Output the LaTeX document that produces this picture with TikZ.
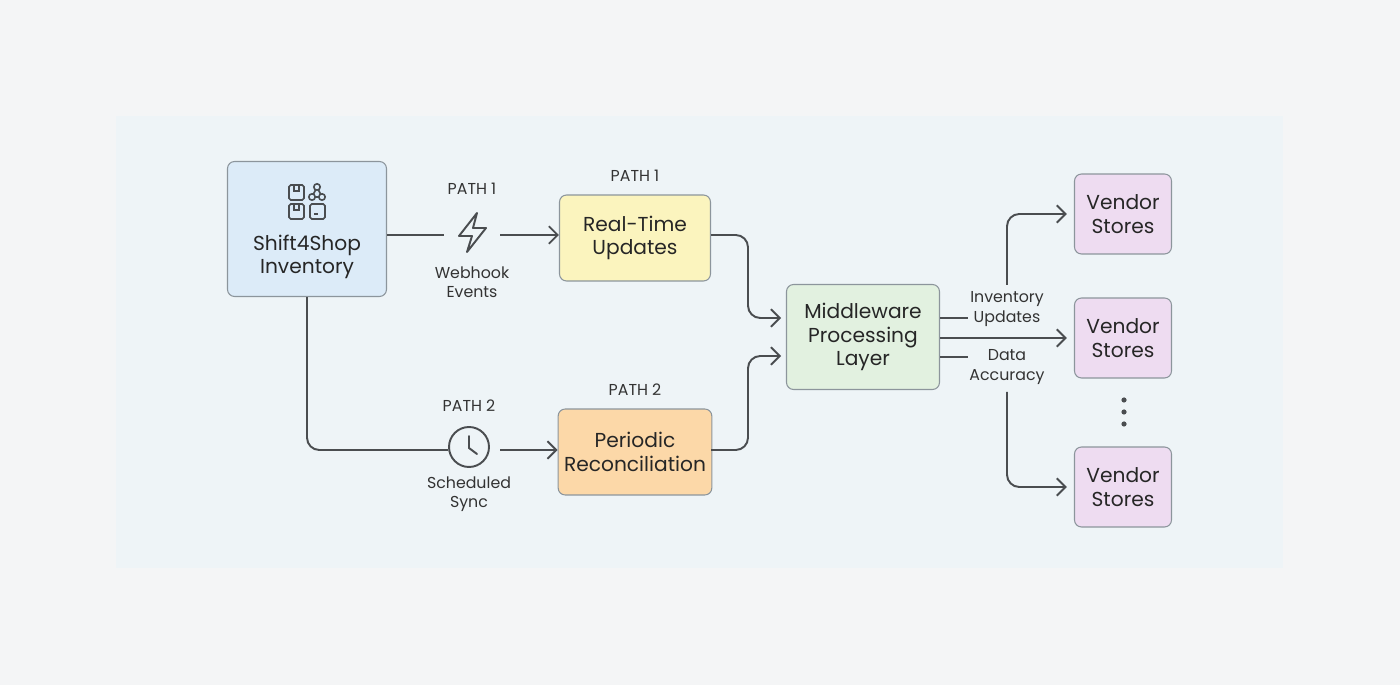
\documentclass[tikz,border=0pt]{standalone}
\usepackage{fontspec}
\setmainfont{Poppins}
\usepackage{tikz}
\usetikzlibrary{positioning,arrows.meta,calc}
\definecolor{lineC}{HTML}{4A4D50}
\definecolor{edgeC}{HTML}{8C959C}
\definecolor{blueF}{HTML}{DCEBF8}
\definecolor{yellowF}{HTML}{FBF4BE}
\definecolor{orangeF}{HTML}{FCD8A8}
\definecolor{greenF}{HTML}{E2F1E0}
\definecolor{pinkF}{HTML}{EEDCF1}
\definecolor{pageC}{HTML}{F4F5F6}
\definecolor{panelC}{HTML}{EEF4F7}

\begin{document}
\begin{tikzpicture}[
    x=0.02cm, y=-0.02cm,
    box/.style={rectangle, draw=edgeC, line width=0.6pt, rounded corners=4pt, align=center, font=\fontsize{11.5}{13.5}\selectfont, text=black!85},
    lbl/.style={align=center, font=\fontsize{9}{11}\selectfont, text=black!80},
    arrow/.style={-{Straight Barb[length=5pt,width=10pt]}, line width=1.1pt, draw=lineC, rounded corners=7pt},
    link/.style={line width=1.1pt, draw=lineC, rounded corners=7pt}
]
% page and panel
\fill[pageC] (0,0) rectangle (1400,685);
\fill[panelC] (116,116) rectangle (1283,568);

% boxes
\node[box, fill=blueF, minimum width=3.18cm, minimum height=2.7cm] (shop) at (307,229) {};
\node[box, draw=none, fill=none] (shoptxt) at (307,257) {Shift4Shop\\Inventory};
\node[box, fill=yellowF, minimum width=3.02cm, minimum height=1.72cm] (realtime) at (635,238) {Real-Time\\Updates};
\node[box, fill=orangeF, minimum width=3.02cm, minimum height=1.72cm] (periodic) at (635,452) {Periodic\\Reconciliation};
\node[box, fill=greenF, minimum width=3.06cm, minimum height=2.1cm] (middle) at (863,337) {Middleware\\Processing\\Layer};
\node[box, fill=pinkF, minimum width=1.94cm, minimum height=1.6cm] (vendorA) at (1123,214) {Vendor\\Stores};
\node[box, fill=pinkF, minimum width=1.94cm, minimum height=1.6cm] (vendorB) at (1123,338) {Vendor\\Stores};
\node[box, fill=pinkF, minimum width=1.94cm, minimum height=1.6cm] (vendorC) at (1123,487) {Vendor\\Stores};
\foreach \y in {400,412,424} \fill[lineC] (1124,\y) circle (2.6);

% inventory icon
\begin{scope}[shift={(307,201)}, line width=0.9pt]
  \draw[lineC, rounded corners=1pt] (-18,-16) rectangle (-3,-1);
  \draw[lineC] (-13,-16) -- (-13,-10) -- (-8,-10) -- (-8,-16);
  \draw[lineC, rounded corners=1pt] (-18,3) rectangle (-3,18);
  \draw[lineC] (-13,3) -- (-13,9) -- (-8,9) -- (-8,3);
  \draw[lineC, rounded corners=1pt] (3,3) rectangle (18,18);
  \draw[lineC] (7,13) -- (11,13);
  \draw[lineC] (10,-14) -- (5,-4) (10,-14) -- (15,-4) (5,-4) -- (15,-4);
  \draw[lineC, fill=blueF] (10,-14) circle (3.2) (5,-4) circle (3.2) (15,-4) circle (3.2);
\end{scope}

% path 1 icon and labels
\draw[lineC, line width=1.1pt, line join=round] (477,213) -- (459,236) -- (472,236) -- (467,252) -- (486,228) -- (473,228) -- cycle;
\node[lbl] (p1a) at (472,189) {PATH 1};
\node[lbl] (webhook) at (472,282) {Webhook\\Events};
\node[lbl] (p1b) at (635,176) {PATH 1};

% path 2 icon and labels
\node[circle, draw=lineC, line width=1.1pt, minimum size=0.8cm, inner sep=0pt] (clock) at (469,447) {};
\draw[lineC, line width=1.1pt, line cap=round] (469,436) -- (469,448) -- (477,454);
\node[lbl] (p2a) at (469,406) {PATH 2};
\node[lbl] (sync) at (469,494) {Scheduled\\Sync};
\node[lbl] (p2b) at (635,390) {PATH 2};

% connectors from the inventory
\coordinate (boltW) at (444,235);
\coordinate (boltE) at (500,235);
\draw[link] (shop.east |- boltW) -- (boltW);
\draw[arrow] (boltE) -- (realtime.west |- boltE);
\coordinate (clockE) at (500,450);
\coordinate (clockW) at (448,450);
\draw[link] (shop.south) |- (clockW);
\draw[arrow] (clockE) -- (periodic.west |- clockE);

% into the middleware
\coordinate (rtOut) at (711,235);
\coordinate (peOut) at (711,450);
\coordinate (midIn1) at (781,318);
\coordinate (midIn2) at (781,356);
\draw[arrow] (rtOut) -- (748,235) -- (748,318) -- (midIn1);
\draw[arrow] (peOut) -- (748,450) -- (748,356) -- (midIn2);

% out to the vendors
\coordinate (tickA) at (968,318);
\coordinate (tickB) at (968,357);
\draw[link] (middle.east |- tickA) -- (tickA);
\draw[link] (middle.east |- tickB) -- (tickB);
\node[lbl] (invupd) at (1007,309) {Inventory\\Updates};
\node[lbl] (accuracy) at (1007,367) {Data\\Accuracy};
\coordinate (upStart) at (1007,285);
\coordinate (downStart) at (1007,392);
\draw[arrow] (middle.east |- vendorB) -- ([xshift=-4pt]vendorB.west);
\draw[arrow] (upStart) |- ([xshift=-4pt]vendorA.west);
\draw[arrow] (downStart) |- ([xshift=-4pt]vendorC.west);
\end{tikzpicture}
\end{document}
